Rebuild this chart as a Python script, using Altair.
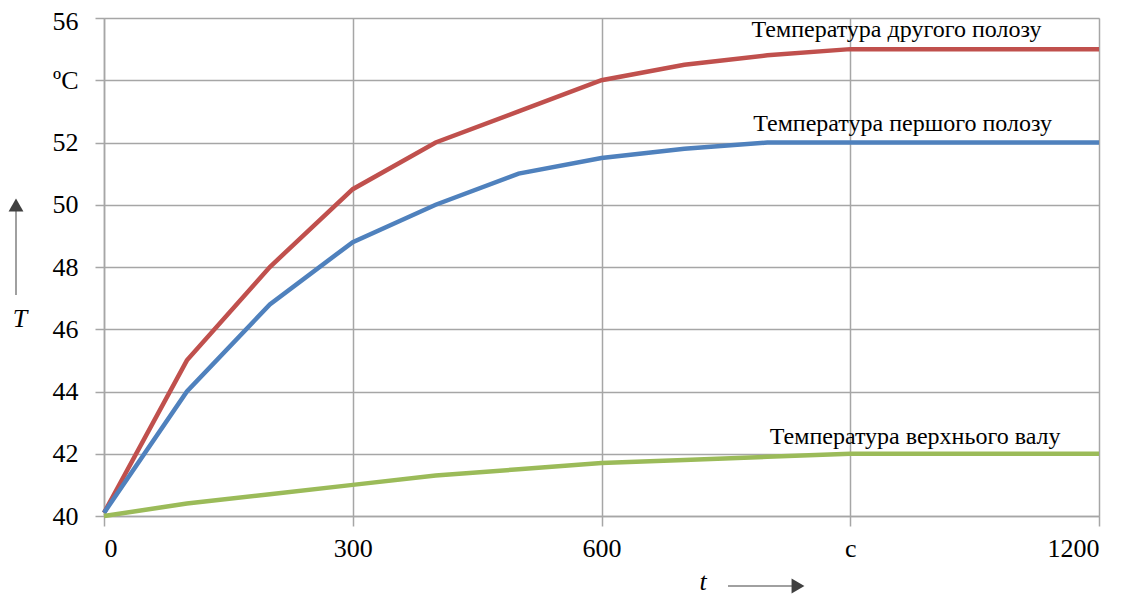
import altair as alt
import pandas as pd

t_vals = [0, 100, 200, 300, 400, 500, 600, 700, 800, 900, 1000, 1100, 1200]
red_vals = [40.1, 45.0, 48.0, 50.5, 52.0, 53.0, 54.0, 54.5, 54.8, 55.0, 55.0, 55.0, 55.0]
blue_vals = [40.1, 44.0, 46.8, 48.8, 50.0, 51.0, 51.5, 51.8, 52.0, 52.0, 52.0, 52.0, 52.0]
green_vals = [40.0, 40.4, 40.7, 41.0, 41.3, 41.5, 41.7, 41.8, 41.9, 42.0, 42.0, 42.0, 42.0]

series_names = ["Температура другого полозу", "Температура першого полозу", "Температура верхнього валу"]
series_colors = ["#C0504D", "#4F81BD", "#9BBB59"]
label_x = [781, 783, 803]
label_y = [55.6, 52.6, 42.55]

rows = []
for name, vals in zip(series_names, [red_vals, blue_vals, green_vals]):
    for t, v in zip(t_vals, vals):
        rows.append({"t": t, "T": v, "s": name})
df = pd.DataFrame(rows)
lab = pd.DataFrame({"s": series_names, "x": label_x, "y": label_y})

FONT = "Liberation Serif"
GRID = "#a6a6a6"
xs = alt.Scale(domain=[0, 1200], nice=False, zero=False)
ys = alt.Scale(domain=[40, 56], nice=False, zero=False)

lines = alt.Chart(df).mark_line(strokeWidth=4.5, clip=False).encode(
    x=alt.X("t:Q", scale=xs, axis=alt.Axis(
        values=[0, 300, 600, 900, 1200], title=None, format="d",
        labelExpr="datum.value == 900 ? 'c' : datum.label",
        labelFont=FONT, labelFontSize=26, labelColor="#000000",
        labelPadding=9, tickSize=10, tickColor=GRID, tickWidth=1.5,
        domainColor=GRID, domainWidth=1.5,
        gridColor=GRID, gridWidth=1.5)),
    y=alt.Y("T:Q", scale=ys, axis=alt.Axis(
        values=[40, 42, 44, 46, 48, 50, 52, 54, 56], title=None,
        labelExpr="datum.value == 54 ? 'ºC' : datum.label",
        labelFont=FONT, labelFontSize=26, labelColor="#000000",
        labelOffset={"condition": {"test": "datum.value == 56", "value": 3}, "value": 0},
        labelPadding=17, tickSize=9, tickColor=GRID, tickWidth=1.5,
        domainColor=GRID, domainWidth=1.5,
        gridColor=GRID, gridWidth=1.5)),
    color=alt.Color("s:N", scale=alt.Scale(domain=series_names, range=series_colors), legend=None),
)

labels = alt.Chart(lab).mark_text(font=FONT, fontSize=24, align="left", baseline="middle", color="#000000").encode(
    x=alt.X("x:Q", scale=xs), y=alt.Y("y:Q", scale=ys), text="s:N"
)

arrow_color = "#404040"
base = alt.Chart(pd.DataFrame({"a": [0]}))
y_arrow = base.mark_rule(color="#808080", strokeWidth=1.5).encode(
    x=alt.value(-88), y=alt.value(277), y2=alt.value(185))
y_head = base.mark_point(shape="triangle-up", filled=True, color=arrow_color, size=220, opacity=1).encode(
    x=alt.value(-88), y=alt.value(187))
x_arrow = base.mark_rule(color="#808080", strokeWidth=1.5).encode(
    x=alt.value(624), x2=alt.value(690), y=alt.value(568))
x_head = base.mark_point(shape="triangle-right", filled=True, color=arrow_color, size=220, opacity=1).encode(
    x=alt.value(694), y=alt.value(568))
T_text = base.mark_text(text="T", font=FONT, fontSize=26, fontStyle="italic", color="#000000").encode(
    x=alt.value(-84), y=alt.value(301))
t_text = base.mark_text(text="t", font=FONT, fontSize=26, fontStyle="italic", color="#000000").encode(
    x=alt.value(599), y=alt.value(564))

chart = alt.layer(lines, labels, y_arrow, y_head, x_arrow, x_head, T_text, t_text).properties(
    width=995, height=498,
    autosize=alt.AutoSizeParams(type="none"),
    padding={"left": 96, "top": 10, "right": 30, "bottom": 80},
).configure_view(stroke=None).configure_axis(labelFont=FONT).configure(background="#ffffff")

chart.save("out.html", embed_options={"renderer": "svg", "actions": False})
